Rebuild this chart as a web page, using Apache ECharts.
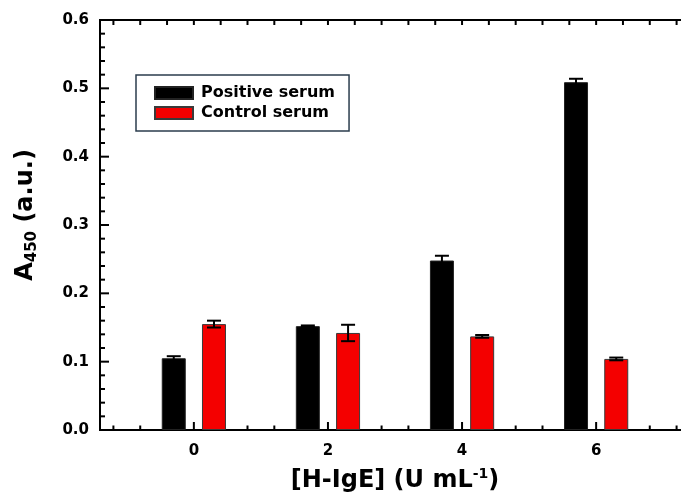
<!DOCTYPE html>
<html>
<head>
<meta charset="utf-8">
<style>
  html, body { margin: 0; padding: 0; background: #fff; }
  #chart { width: 681px; height: 498px; }
</style>
<script src="https://cdn.jsdelivr.net/npm/echarts@6/dist/echarts.min.js"></script>
</head>
<body>
<div id="chart"></div>
<script>
// H-IgE concentration groups (U mL-1)
const concentrations = [0, 2, 4, 6];
// A450 absorbance readings and their error
const positiveSerum = [0.105, 0.152, 0.248, 0.509];
const positiveErr   = [0.003, 0.001, 0.007, 0.005];
const controlSerum  = [0.155, 0.142, 0.137, 0.104];
const controlErr    = [0.005, 0.012, 0.002, 0.002];
// tick positions (axis units)
const xMajorTicks = [0, 2, 4, 6];
const xMinorTicks = [-1.2, -0.8, -0.4, 0.4, 0.8, 1.2, 1.6, 2.4, 2.8, 3.2, 3.6,
                     4.4, 4.8, 5.2, 5.6, 6.4, 6.8, 7.2];
const yMajorTicks = [0, 0.1, 0.2, 0.3, 0.4, 0.5, 0.6];
const yMinorTicks = [0.02, 0.04, 0.06, 0.08, 0.12, 0.14, 0.16, 0.18,
                     0.22, 0.24, 0.26, 0.28, 0.32, 0.34, 0.36, 0.38,
                     0.42, 0.44, 0.46, 0.48, 0.52, 0.54, 0.56, 0.58];

// horizontal shift of each serum's bar from its group centre (axis units)
const BAR_SHIFT = 0.3;
const X_MIN = -1.4, X_MAX = 7.4, Y_MIN = 0, Y_MAX = 0.6;

const FONT = 'DejaVu Sans';
const tickFont = { fontFamily: FONT, fontWeight: 'bold', fontSize: 15, color: '#000' };

const posData = concentrations.map((c, i) => [c - BAR_SHIFT, positiveSerum[i]]);
const ctrlData = concentrations.map((c, i) => [c + BAR_SHIFT, controlSerum[i]]);
const errData = concentrations.map((c, i) => [c - BAR_SHIFT, positiveSerum[i], positiveErr[i]])
  .concat(concentrations.map((c, i) => [c + BAR_SHIFT, controlSerum[i], controlErr[i]]));

// tick kinds: 0 x major, 1 x minor, 2 y major, 3 y minor
const tickData = []
  .concat(xMajorTicks.map(v => [v, 0]))
  .concat(xMinorTicks.map(v => [v, 1]))
  .concat(yMajorTicks.map(v => [v, 2]))
  .concat(yMinorTicks.map(v => [v, 3]));

const tickStyle = { stroke: '#000', lineWidth: 2 };

// inward tick marks on all four sides of the plot frame
function renderTick(params, api) {
  const v = api.value(0), kind = api.value(1);
  const ln = (x1, y1, x2, y2) => ({ type: 'line', shape: { x1, y1, x2, y2 }, style: tickStyle });
  if (kind < 2) {
    const b = api.coord([v, Y_MIN]);
    const t = api.coord([v, Y_MAX]);
    const lenB = kind === 0 ? 8 : 4.5;
    const lenT = 5;
    return { type: 'group', children: [ln(b[0], b[1], b[0], b[1] - lenB), ln(t[0], t[1], t[0], t[1] + lenT)] };
  }
  const l = api.coord([X_MIN, v]);
  const r = api.coord([X_MAX, v]);
  const len = kind === 2 ? 9 : 5;
  return { type: 'group', children: [ln(l[0], l[1], l[0] + len, l[1]), ln(r[0], r[1], r[0] - len, r[1])] };
}

function errorBar(params, api) {
  const x = api.value(0), y = api.value(1), e = api.value(2);
  const top = api.coord([x, y + e]);
  const bot = api.coord([x, y - e]);
  const half = 7;
  const style = { stroke: '#000', lineWidth: 2 };
  return {
    type: 'group',
    children: [
      { type: 'line', shape: { x1: top[0], y1: top[1], x2: bot[0], y2: bot[1] }, style },
      { type: 'line', shape: { x1: top[0] - half, y1: top[1], x2: top[0] + half, y2: top[1] }, style },
      { type: 'line', shape: { x1: bot[0] - half, y1: bot[1], x2: bot[0] + half, y2: bot[1] }, style }
    ]
  };
}

const chart = echarts.init(document.getElementById('chart'));
chart.setOption({
  animation: false,
  grid: {
    left: 100, top: 20, width: 590, height: 410,
    outerBoundsMode: 'none',
    show: true, borderColor: '#000', borderWidth: 2, backgroundColor: 'transparent'
  },
  legend: {
    orient: 'vertical',
    left: 136, top: 75,
    padding: [10, 14, 10, 18],
    itemWidth: 38, itemHeight: 12, itemGap: 4,
    borderColor: '#2b3d4d', borderWidth: 1.5,
    textStyle: { fontFamily: FONT, fontWeight: 'bold', fontSize: 16, lineHeight: 16, color: '#000', padding: [0, 0, 0, 3] },
    data: [
      { name: 'Positive serum', icon: 'rect' },
      { name: 'Control serum', icon: 'rect' }
    ]
  },
  xAxis: {
    type: 'value', min: X_MIN, max: X_MAX,
    axisLine: { show: false },
    splitLine: { show: false },
    axisTick: { show: false },
    axisLabel: Object.assign({ show: true, customValues: xMajorTicks, margin: 14 }, tickFont),
    name: '{t|[H-IgE] (U mL}{sup|-1}{t|)}',
    nameLocation: 'middle', nameGap: 37,
    nameTextStyle: {
      rich: {
        t: { fontFamily: FONT, fontWeight: 'bold', fontSize: 24, lineHeight: 28, color: '#000' },
        sup: { fontFamily: FONT, fontWeight: 'bold', fontSize: 14, lineHeight: 14, color: '#000', verticalAlign: 'top' }
      }
    }
  },
  yAxis: {
    type: 'value', min: Y_MIN, max: Y_MAX, interval: 0.1,
    axisLine: { show: false },
    splitLine: { show: false },
    axisTick: { show: false },
    axisLabel: Object.assign({ margin: 11, formatter: v => v.toFixed(1) }, tickFont),
    name: '{t|A}{sub|450}{t| (a.u.)}',
    nameLocation: 'middle', nameRotate: 90, nameGap: 60,
    nameTextStyle: {
      padding: [0, 0, 0, 20],
      rich: {
        t: { fontFamily: FONT, fontWeight: 'bold', fontSize: 24, lineHeight: 28, color: '#000' },
        sub: { fontFamily: FONT, fontWeight: 'bold', fontSize: 15, lineHeight: 15, color: '#000', verticalAlign: 'bottom' }
      }
    }
  },
  series: [
    {
      name: 'ticks', type: 'custom', z: 1, silent: true,
      renderItem: renderTick, data: tickData
    },
    {
      name: 'Positive serum', type: 'bar', z: 2,
      barWidth: 24, barGap: '-100%',
      itemStyle: { color: '#000', borderColor: '#222', borderWidth: 1 },
      data: posData
    },
    {
      name: 'Control serum', type: 'bar', z: 2,
      barWidth: 24, barGap: '-100%',
      itemStyle: { color: '#f40000', borderColor: '#3a3a3a', borderWidth: 1 },
      data: ctrlData
    },
    {
      name: 'error', type: 'custom', z: 5,
      renderItem: errorBar, data: errData
    }
  ]
});
</script>
</body>
</html>
